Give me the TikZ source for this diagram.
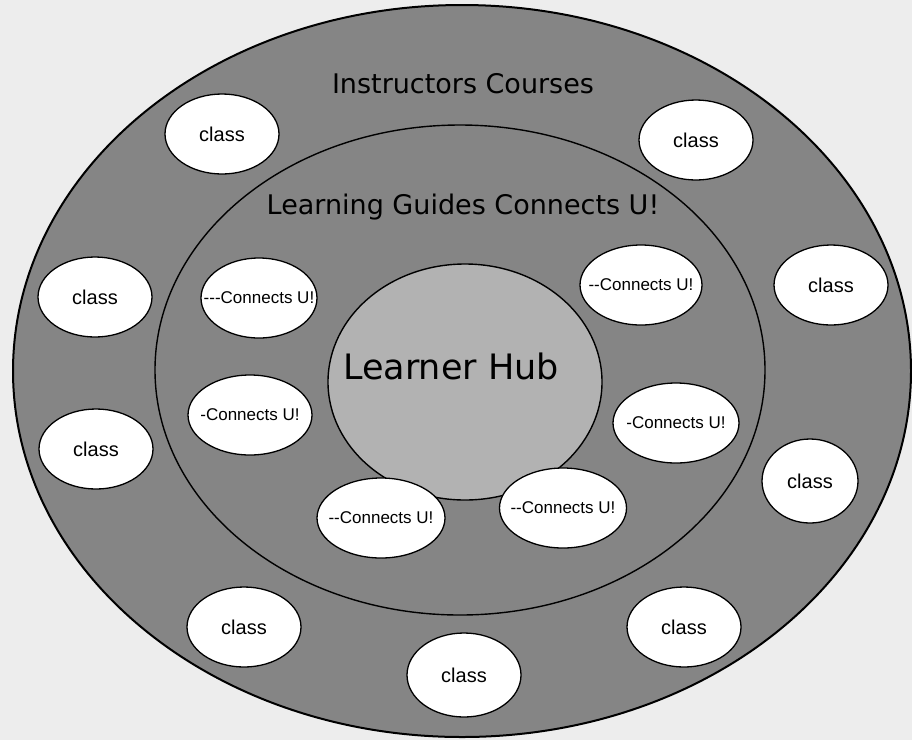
\documentclass[tikz,border=0pt]{standalone}
\usepackage{fontspec}
\setmainfont{Liberation Sans}
\newfontfamily\titlefont{DejaVu Sans}
\usetikzlibrary{shapes.geometric}
\definecolor{bgcol}{gray}{0.93}
\definecolor{ringcol}{gray}{0.52}
\definecolor{hubcol}{gray}{0.70}
\newcommand\fixw[1]{\makebox[0pt][c]{#1}}
\tikzset{
  classoval/.style={ellipse, draw=black, line width=1.3pt, fill=white,
    minimum width=114pt, minimum height=80pt, inner sep=0pt,
    font=\fontsize{20}{22}\selectfont},
  cuoval/.style={ellipse, draw=black, line width=1.3pt, fill=white,
    minimum width=124pt, minimum height=80pt, inner sep=0pt,
    font=\fontsize{17}{19}\selectfont},
  titletext/.style={font=\titlefont\fontsize{27}{30}\selectfont, text=black}
}
\begin{document}
\begin{tikzpicture}[x=1pt,y=-1pt]
\useasboundingbox (0,0) rectangle (912,740);
\fill[bgcol] (0,0) rectangle (912,740);
% rings
\node[ellipse, draw=black, line width=2pt, fill=ringcol, minimum width=898pt, minimum height=732pt, inner sep=0pt] (outer) at (462,371) {};
\node[ellipse, draw=black, line width=1.4pt, minimum width=610pt, minimum height=490pt, inner sep=0pt] (middle) at (460,370) {};
\node[ellipse, draw=black, line width=1.4pt, fill=hubcol, minimum width=274pt, minimum height=236pt, inner sep=0pt] (hub) at (465,382) {};
% titles
\node[titletext] (t1) at (463,84) {Instructors Courses};
\node[titletext] (t2) at (463,207) {Learning Guides Connects U!};
\node[font=\titlefont\fontsize{35}{39}\selectfont] (t3) at (451,366) {Learner Hub};
% class ovals
\node[classoval] (c1) at (222,134) {\fixw{class}};
\node[classoval] (c2) at (696,140) {\fixw{class}};
\node[classoval] (c3) at (95,297) {\fixw{class}};
\node[classoval] (c4) at (831,285) {\fixw{class}};
\node[classoval] (c5) at (96,449) {\fixw{class}};
\node[classoval, minimum width=96pt, minimum height=84pt] (c6) at (810,481) {\fixw{class}};
\node[classoval] (c7) at (244,627) {\fixw{class}};
\node[classoval] (c8) at (684,627) {\fixw{class}};
\node[classoval, minimum height=84pt] (c9) at (464,675) {\fixw{class}};
% connects ovals
\node[cuoval, minimum width=116pt] (u1) at (259,298) {\fixw{{-}{-}{-}Connects U!}};
\node[cuoval, minimum width=122pt] (u2) at (641,285) {\fixw{{-}{-}Connects U!}};
\node[cuoval] (u3) at (250,415) {\fixw{{-}Connects U!}};
\node[cuoval, minimum width=126pt] (u4) at (676,423) {\fixw{{-}Connects U!}};
\node[cuoval, minimum width=128pt] (u5) at (381,518) {\fixw{{-}{-}Connects U!}};
\node[cuoval, minimum width=127pt] (u6) at (563,508) {\fixw{{-}{-}Connects U!}};
\end{tikzpicture}
\end{document}
